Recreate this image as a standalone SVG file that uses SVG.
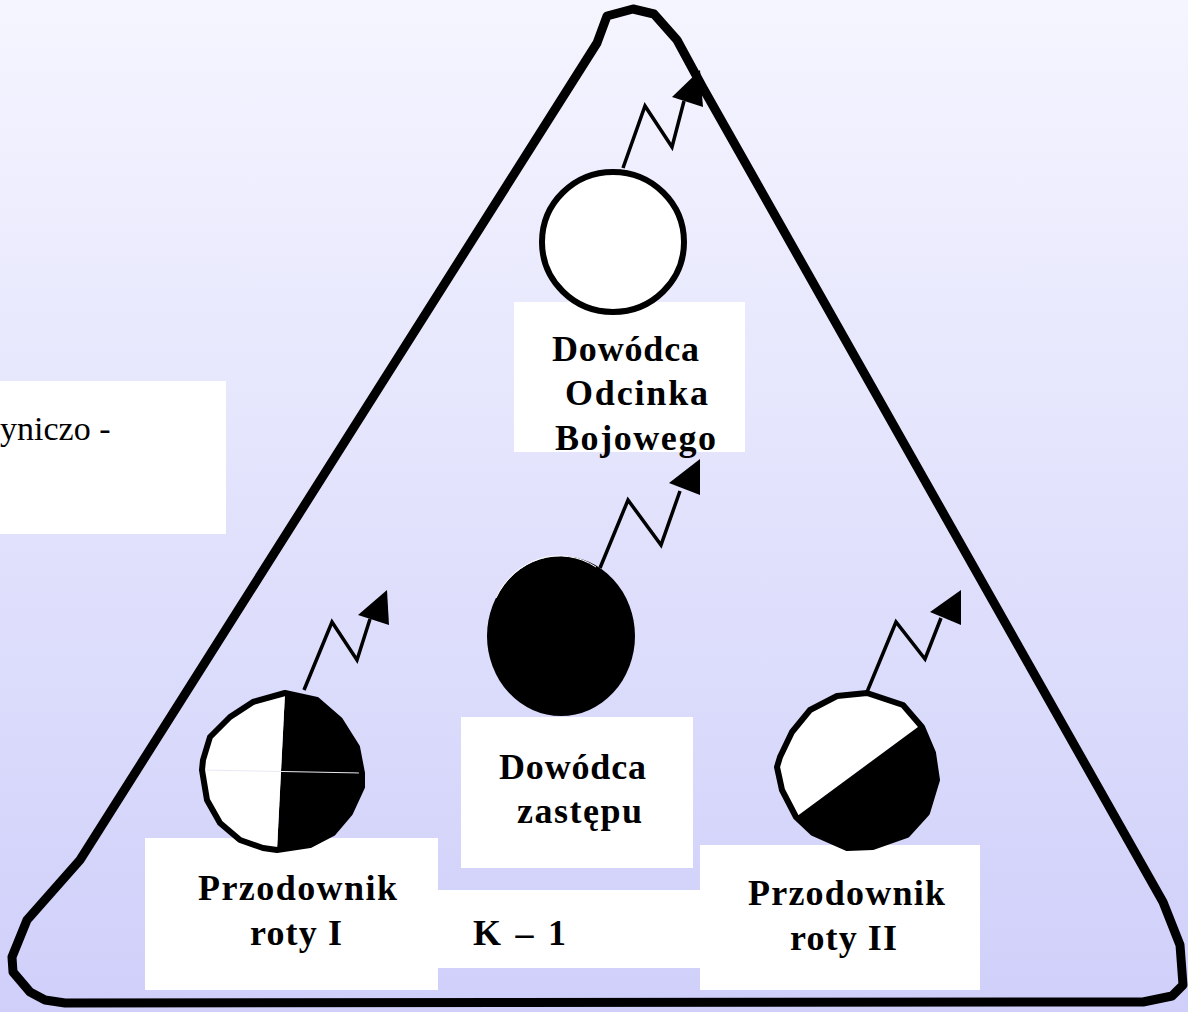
<svg xmlns="http://www.w3.org/2000/svg" width="1188" height="1012" viewBox="0 0 1188 1012">
<defs>
<linearGradient id="bg" x1="0" y1="0" x2="0" y2="1">
<stop offset="0" stop-color="#f5f5ff"/>
<stop offset="1" stop-color="#cfcffa"/>
</linearGradient>
<style>
.box{fill:#ffffff;stroke:none}
.lbl{font-family:"Liberation Serif","Times New Roman",serif;font-weight:bold;font-size:36px;fill:#000;text-anchor:middle}
.plain{font-family:"Liberation Serif","Times New Roman",serif;font-size:34px;fill:#000}
.zig{fill:none;stroke:#000;stroke-width:3.5;stroke-linejoin:miter}
.head{fill:#000;stroke:none}
.ring{stroke:#000;stroke-width:6;stroke-linejoin:round}
</style>
</defs>
<rect x="0" y="0" width="1188" height="1012" fill="url(#bg)"/>

<g id="frame">
<path d="M597,43 L607,16 L633,9 L654,14 L677,40 L703,88 L1163,902 L1180,945 L1183,985 L1172,996 L1143,1002 L65,1003 L45,1000 L30,992 L13,972 L12,957 L27,920 L80,860 Z" fill="none" stroke="#000" stroke-width="9" stroke-linejoin="round"/>
</g>

<g id="side-note">
<rect class="box" x="0" y="381" width="226" height="153"/>
<text class="plain" x="0" y="440">yniczo -</text>
</g>

<g id="node-dowodca-odcinka">
<rect class="box" x="514" y="302" width="231" height="150"/>
<ellipse class="ring" cx="613" cy="242" rx="71" ry="70" fill="#fff"/>
<text class="lbl" x="625.5" y="361" textLength="147" lengthAdjust="spacing">Dowódca</text>
<text class="lbl" x="636.5" y="405" textLength="143" lengthAdjust="spacing">Odcinka</text>
<text class="lbl" x="635.5" y="450" textLength="161" lengthAdjust="spacing">Bojowego</text>
</g>

<g id="node-dowodca-zastepu">
<ellipse cx="561" cy="636" rx="74" ry="80" fill="#000"/>
<path d="M496,598 A71,77 0 0 1 596,567" fill="none" stroke="#fff" stroke-width="1"/>
<rect class="box" x="461" y="717" width="232" height="151"/>
<text class="lbl" x="572.5" y="779" textLength="147" lengthAdjust="spacing">Dowódca</text>
<text class="lbl" x="579.5" y="823" textLength="125" lengthAdjust="spacing">zastępu</text>
</g>

<g id="node-k1">
<rect class="box" x="430" y="890" width="270" height="78"/>
<text class="lbl" x="519.5" y="945" textLength="93" lengthAdjust="spacing">K – 1</text>
</g>

<g id="node-roty-1">
<rect class="box" x="145" y="838" width="293" height="152"/>
<path d="M285,693 L317,700 L340,720 L357,747 L362,773 L362,787 L350,813 L333,833 L310,845 L277,850 Z" fill="#000"/>
<path d="M285,693 L253,702 L230,717 L210,737 L203,760 L202,770 L207,800 L220,823 L240,840 L263,848 L277,850 Z" fill="#fff"/>
<line x1="203" y1="770" x2="362" y2="773" stroke="#e8e8f4" stroke-width="1"/>
<polygon class="ring" fill="none" points="285,693 253,702 230,717 210,737 203,760 202,770 207,800 220,823 240,840 263,848 277,850 310,845 333,833 350,813 362,787 362,773 357,747 340,720 317,700"/>
<text class="lbl" x="297.5" y="900" textLength="199" lengthAdjust="spacing">Przodownik</text>
<text class="lbl" x="296" y="945" textLength="92" lengthAdjust="spacing">roty I</text>
</g>

<g id="node-roty-2">
<rect class="box" x="700" y="845" width="280" height="145"/>
<path d="M867,693 L837,696 L810,710 L792,732 L780,757 L777,767 L782,790 L796,817 L918,727 L903,705 Z" fill="#fff"/>
<path d="M796,817 L813,833 L847,848 L873,847 L907,835 L927,813 L937,780 L933,753 L922,727 L918,727 Z" fill="#000"/>
<polygon class="ring" fill="none" points="867,693 837,696 810,710 792,732 780,757 777,767 782,790 796,817 813,833 847,848 873,847 907,835 927,813 937,780 933,753 922,727 903,705"/>
<text class="lbl" x="846.5" y="905" textLength="197" lengthAdjust="spacing">Przodownik</text>
<text class="lbl" x="843.5" y="950" textLength="107" lengthAdjust="spacing">roty II</text>
</g>

<g id="connectors">
<polyline class="zig" points="623,168 645,106 672,147 684,101"/>
<polygon class="head" points="672,97 700,70 703,107"/>
<polyline class="zig" points="600,568 628,500 661,545 680,491"/>
<polygon class="head" points="669,483 700,459 700,495"/>
<polyline class="zig" points="304,690 332,622 357,660 370,619"/>
<polygon class="head" points="358,615 387,590 389,625"/>
<polyline class="zig" points="867,692 896,622 925,659 941,618"/>
<polygon class="head" points="930,612 961,590 961,625"/>
</g>
</svg>
